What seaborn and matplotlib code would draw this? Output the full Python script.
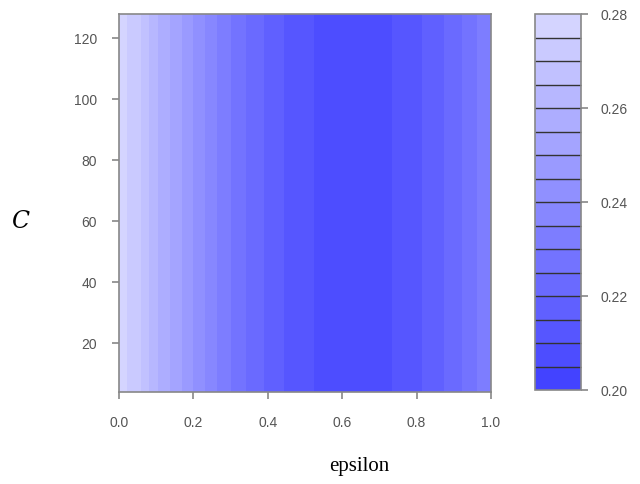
import numpy as np
import pandas as pd
import matplotlib
matplotlib.use("Agg")
import matplotlib.pyplot as plt
from matplotlib.colors import ListedColormap, BoundaryNorm
import seaborn as sns

# ---- data ----
epsilon = [0.00, 0.05, 0.10, 0.15, 0.20, 0.25, 0.30, 0.35, 0.40, 0.45, 0.50,
           0.55, 0.60, 0.65, 0.70, 0.75, 0.80, 0.85, 0.90, 0.95, 1.00]
error_profile = [0.2775, 0.2717, 0.2610, 0.2529, 0.2450, 0.2367, 0.2300, 0.2240,
                 0.2190, 0.2144, 0.2113, 0.2085, 0.2070, 0.2065, 0.2080, 0.2110,
                 0.2140, 0.2177, 0.2225, 0.2285, 0.2340]
C_values = [4, 8, 16, 32, 64, 128]
levels = [0.200, 0.205, 0.210, 0.215, 0.220, 0.225, 0.230, 0.235, 0.240,
          0.245, 0.250, 0.255, 0.260, 0.265, 0.270, 0.275, 0.280]
x_ticks = [0.0, 0.2, 0.4, 0.6, 0.8, 1.0]
y_ticks = [20, 40, 60, 80, 100, 120]
cbar_ticks = [0.20, 0.22, 0.24, 0.26, 0.28]

sns.set_style("white")
plt.rcParams['font.family'] = ['Liberation Sans', 'DejaVu Sans']

df = pd.DataFrame([(c, e, z) for c in C_values for e, z in zip(epsilon, error_profile)],
                  columns=["C", "epsilon", "err"])
grid = df.pivot(index="C", columns="epsilon", values="err")

palette = sns.blend_palette(["#4343FF", "#D4D4FF"], n_colors=len(levels) - 1)
cmap = ListedColormap(palette)
norm = BoundaryNorm(levels, cmap.N)

fig = plt.figure(figsize=(6.4, 4.84), dpi=100)
ax = fig.add_axes([119 / 640, 1 - 392 / 484, 372 / 640, 378 / 484])
cax = fig.add_axes([535 / 640, 1 - 390 / 484, 46 / 640, 376 / 484])

X, Y = np.meshgrid(grid.columns.values, grid.index.values)
cs = ax.contourf(X, Y, grid.values, levels=levels, cmap=cmap, norm=norm)
ax.set_xlim(0, 1)
ax.set_ylim(4, 128)
ax.set_xticks(x_ticks)
ax.set_xticklabels([f"{t:.1f}" for t in x_ticks])
ax.set_yticks(y_ticks)
ax.set_yticklabels([str(t) for t in y_ticks])

frame_col = "#888888"
label_col = "#555555"
for a in (ax, cax):
    for s in a.spines.values():
        s.set_color(frame_col)
        s.set_linewidth(1.2)
ax.tick_params(axis="x", direction="out", length=5, width=1.2, color=frame_col,
               labelcolor=label_col, labelsize=10, pad=12, bottom=True)
ax.tick_params(axis="y", direction="out", length=5, width=1.2, color=frame_col,
               labelcolor=label_col, labelsize=10, pad=11, left=True)

cb = fig.colorbar(cs, cax=cax, drawedges=True, ticks=cbar_ticks)
cb.dividers.set_color("#333333")
cb.dividers.set_linewidth(1.0)
cb.outline.set_edgecolor(frame_col)
cb.outline.set_linewidth(1.2)
cb.set_ticklabels([f"{t:.2f}" for t in cbar_ticks])
cax.minorticks_off()
cax.tick_params(axis="y", which="major", direction="out", length=5, width=1.2,
                color=frame_col, labelcolor=label_col, labelsize=10, pad=9, right=True)

fig.text(20 / 640, 1 - 222 / 484, "C", fontsize=17, style="italic",
         family=["DejaVu Serif"], ha="center", va="center", color="black")
fig.text(359 / 640, 1 - 466 / 484, "epsilon", fontsize=15,
         family=["Liberation Serif"], ha="center", va="center", color="black")

fig.savefig("out.png", dpi=100)
